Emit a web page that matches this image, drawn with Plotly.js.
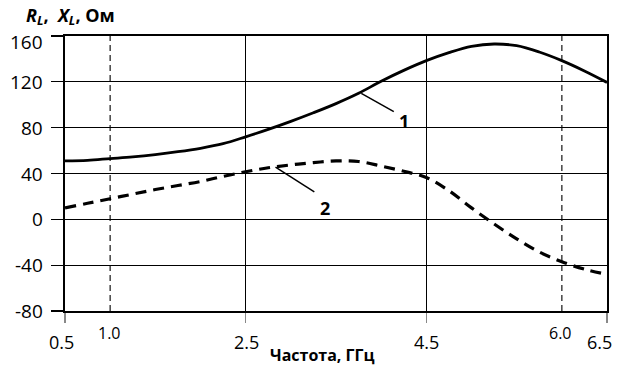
<!DOCTYPE html>
<html>
<head>
<meta charset="utf-8">
<script src="https://cdn.plot.ly/plotly-3.0.1.min.js"></script>
<style>html,body{margin:0;padding:0;background:#fff;}#chart{width:618px;height:367px;}</style>
</head>
<body>
<div id="chart"></div>
<script>
// Frequency, GHz
const freq = [0.5, 0.75, 1.0, 1.25, 1.5, 1.75, 2.0, 2.25, 2.5, 2.75, 3.0, 3.25, 3.5, 3.75, 4.0, 4.25, 4.5, 4.75, 5.0, 5.25, 5.5, 5.75, 6.0, 6.25, 6.5];
// Curve 1 (solid), Ohm
const curve1 = [51, 51.5, 53, 54.5, 56.5, 59, 62, 66, 72, 78.5, 85.5, 93, 101, 110, 120.5, 130, 138.5, 145.5, 151, 153, 151.5, 146, 138.5, 129.5, 119.5];
// Curve 2 (dashed), Ohm
const curve2 = [10, 14, 18, 22, 26, 29.5, 33, 37.5, 41.5, 45, 47.5, 49.5, 51, 50.5, 46.5, 42, 36.5, 25, 10, -4, -17, -28.5, -37, -43.5, -48];

const xMainTicks = [0.5, 2.5, 4.5, 6.5];
const xMainLabels = ['0.5', '2.5', '4.5', '6.5'];
const xMarkTicks = [1.0, 6.0];
const xMarkLabels = ['1.0', '6.0'];
const yTicks = [-80, -40, 0, 40, 80, 120, 160];
const yLabels = ['-80', '-40', '0', '40', '80', '120', '160'];

const curveLabels = ['1', '2'];
const curveLabelPos = [[4.25, 86], [3.38, 10]];
const leaderLines = [[3.78, 110, 4.14, 94], [2.83, 45.5, 3.26, 24]];

const FONT = 'Open Sans, Liberation Sans, sans-serif';

const traces = [
  {x: freq, y: curve1, type: 'scatter', mode: 'lines', line: {color: '#000', width: 2.8, shape: 'spline'}, hoverinfo: 'none'},
  {x: freq, y: curve2, type: 'scatter', mode: 'lines', line: {color: '#000', width: 3.2, dash: '11px,7px', shape: 'spline'}, hoverinfo: 'none'}
];

const shapes = [];
xMarkTicks.forEach(v => shapes.push({type: 'line', xref: 'x', yref: 'paper', x0: v, x1: v, y0: 0, y1: 1, line: {color: '#444', width: 1.5, dash: '6px,4px'}, layer: 'below'}));
leaderLines.forEach(l => shapes.push({type: 'line', xref: 'x', yref: 'y', x0: l[0], y0: l[1], x1: l[2], y1: l[3], line: {color: '#000', width: 1.5}}));

const annotations = [];
const mainShift = [-4, 1, 0, -8];
xMainTicks.forEach((v, i) => annotations.push({x: v, xref: 'x', y: 0, yref: 'paper', text: xMainLabels[i], showarrow: false, xanchor: 'center', yanchor: 'middle', xshift: mainShift[i], yshift: -31, font: {family: FONT, size: 18, color: '#000'}}));
xMarkTicks.forEach((v, i) => annotations.push({x: v, xref: 'x', y: 0, yref: 'paper', text: xMarkLabels[i], showarrow: false, xanchor: 'center', yanchor: 'middle', xshift: -1, yshift: -22, font: {family: FONT, size: 16, color: '#000'}}));
// y tick labels (top one sits a little lower, as in the reference)
yTicks.forEach((v, i) => annotations.push({x: 0, xref: 'paper', y: v, yref: 'y', text: yLabels[i], showarrow: false, xanchor: 'right', yanchor: 'middle', xshift: -20, yshift: (i === yTicks.length - 1) ? -6 : 0, font: {family: FONT, size: 19, color: '#000'}}));
curveLabels.forEach((t, i) => annotations.push({x: curveLabelPos[i][0], y: curveLabelPos[i][1], xref: 'x', yref: 'y', text: '<b>' + t + '</b>', showarrow: false, font: {family: FONT, size: 18, color: '#000'}}));
annotations.push({x: 0.475, xref: 'paper', y: 0, yref: 'paper', yanchor: 'middle', yshift: -44, text: '<b>Частота, ГГц</b>', showarrow: false, font: {family: FONT, size: 16, color: '#000'}});

const layout = {
  width: 618, height: 367,
  margin: {l: 65, r: 11, t: 36, b: 56, pad: 0},
  paper_bgcolor: '#fff', plot_bgcolor: '#fff',
  showlegend: false,
  title: {text: '<b><i>R<sub>L</sub></i>,  <i>X<sub>L</sub></i>, Ом</b>', xref: 'container', x: 0.042, xanchor: 'left', yref: 'container', y: 0.958, yanchor: 'middle', font: {family: FONT, size: 18, color: '#000'}},
  xaxis: {
    range: [0.5, 6.5], tickvals: xMainTicks, showticklabels: false,
    ticks: 'outside', ticklen: 10, tickcolor: '#888', tickwidth: 1.5,
    showgrid: true, gridcolor: '#000', gridwidth: 1.3,
    showline: true, linecolor: '#000', linewidth: 2, mirror: true, zeroline: false, fixedrange: true
  },
  yaxis: {
    range: [-80, 160], tickvals: yTicks, showticklabels: false,
    ticks: 'outside', ticklen: 12, tickcolor: '#000', tickwidth: 1.3,
    showgrid: true, gridcolor: '#000', gridwidth: 1.3,
    showline: true, linecolor: '#000', linewidth: 2, mirror: true, zeroline: false, fixedrange: true
  },
  shapes: shapes,
  annotations: annotations
};

Plotly.newPlot('chart', traces, layout, {displayModeBar: false, staticPlot: true});
</script>
</body>
</html>
